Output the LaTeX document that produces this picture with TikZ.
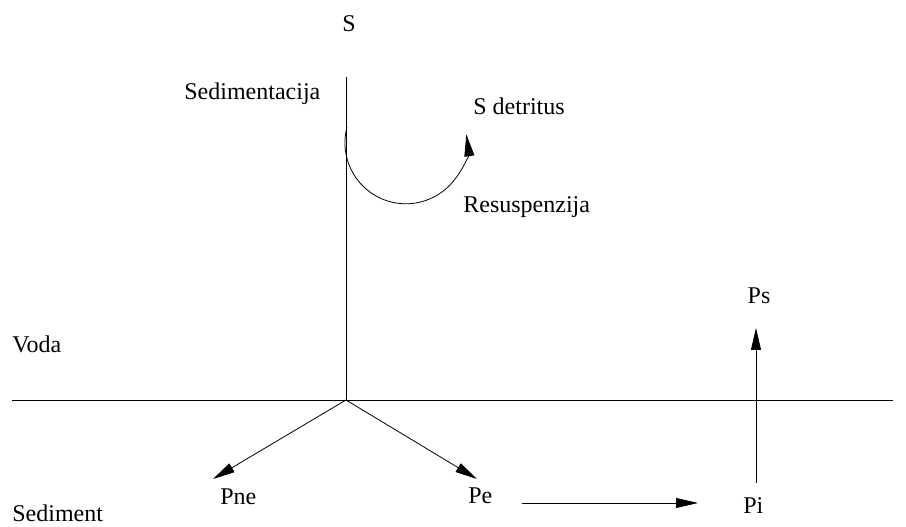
\documentclass[tikz,border=0pt]{standalone}
\usepackage{fontspec}
\setmainfont{Liberation Serif}
\usetikzlibrary{arrows.meta}
\begin{document}
\begin{tikzpicture}[x=1pt,y=1pt,font=\fontsize{24}{28}\selectfont,
        lbl/.style={inner sep=0pt,anchor=base west},
        arr/.style={-{Triangle[length=22pt,width=10pt]}},
        line width=0.8pt]
    \useasboundingbox (0,0) rectangle (906,527);
    % labels
    \node[lbl,anchor=base] (s) at (349,495) {S};
    \node[lbl] (sed) at (184,427) {Sedimentacija};
    \node[lbl] (sdet) at (473,412) {S detritus};
    \node[lbl] (res) at (463,314) {Resuspenzija};
    \node[lbl] (voda) at (12,174) {Voda};
    \node[lbl] (sedim) at (12,5) {Sediment};
    \node[lbl,anchor=base] (ps) at (759,223) {Ps};
    \node[lbl] (pne) at (220,22) {Pne};
    \node[lbl] (pe) at (468,23) {Pe};
    \node[lbl] (pi) at (743,13) {Pi};
    % points
    \coordinate (left) at (12,127);
    \coordinate (right) at (893,127);
    \coordinate (top) at (346,450);
    \coordinate (o) at (346,127);
    \coordinate (arcstart) at (347,400);
    \coordinate (pnetip) at (213,48);
    \coordinate (petip) at (477,48);
    \coordinate (pifrom) at (522,24);
    \coordinate (pito) at (698,24);
    \coordinate (psfrom) at (756,44);
    \coordinate (psto) at (756,199);
    % water / sediment boundary
    \draw (left) -- (right);
    \draw (top) -- (o);
    \draw[arr] (arcstart) arc[start angle=165,end angle=368,radius=61];
    \foreach \t in {pnetip,petip} {
            \draw[arr] (o) -- (\t);
        }
    \draw[arr] (pifrom) -- (pito);
    \draw[arr] (psfrom) -- (psto);
\end{tikzpicture}
\end{document}
